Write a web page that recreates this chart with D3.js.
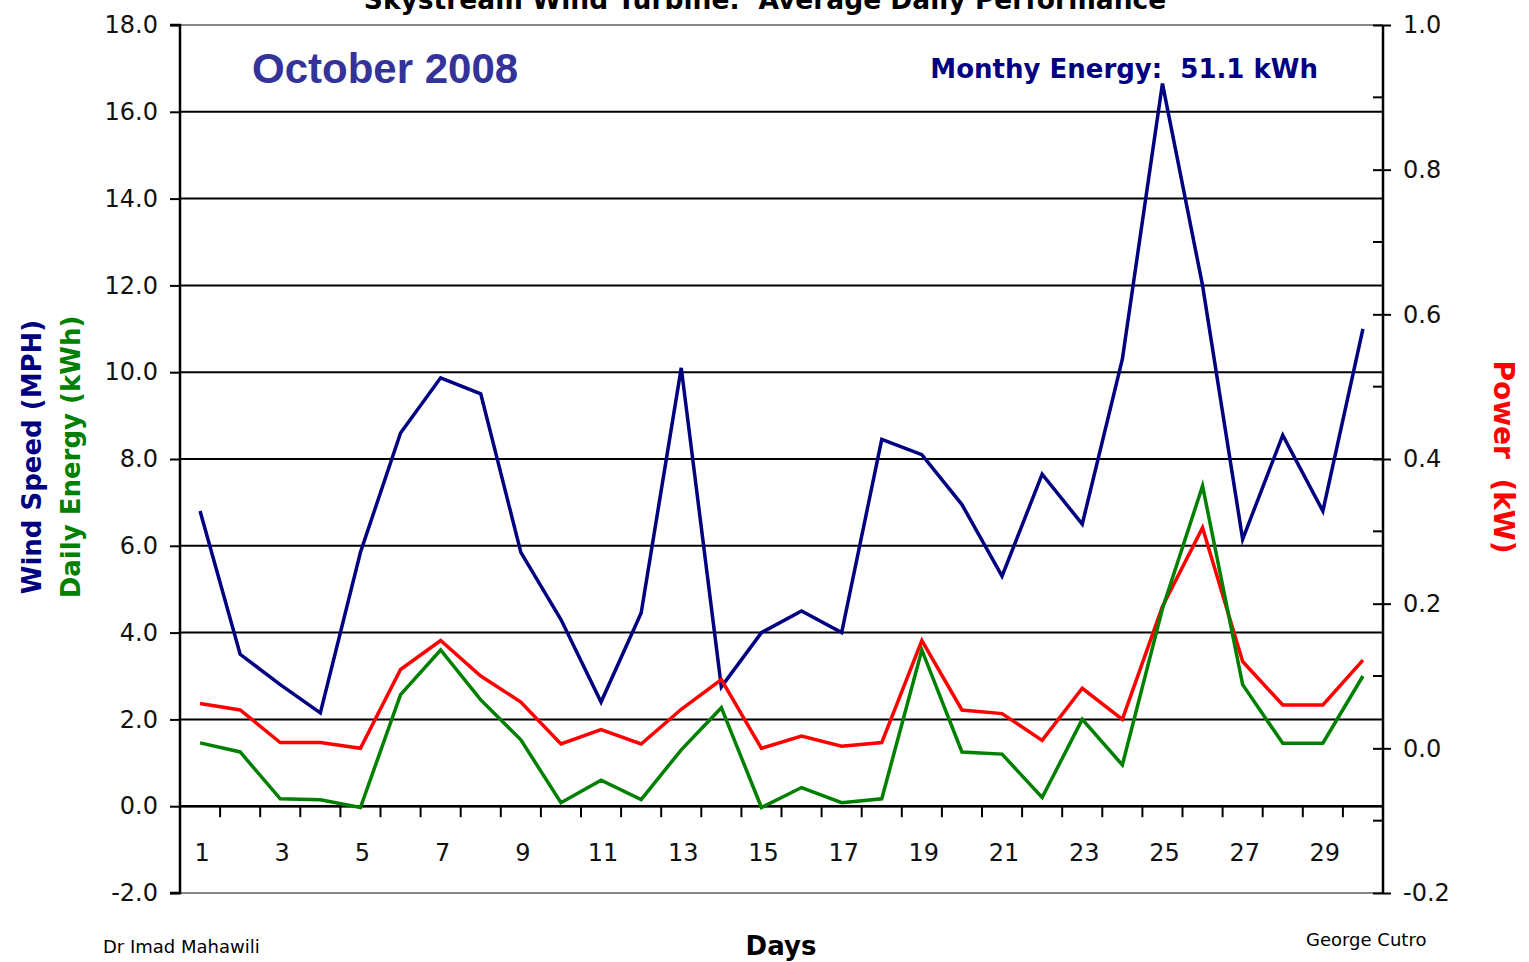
<!DOCTYPE html>
<html>
<head>
<meta charset="utf-8">
<script src="https://cdn.jsdelivr.net/npm/d3@7"></script>
<style>
  body { margin: 0; background: #fff; }
  svg text { font-family: "DejaVu Sans", sans-serif; white-space: pre; }
</style>
</head>
<body>
<div id="chart"></div>
<script>
const days = d3.range(1, 31);
const dayLabels = days.filter(d => d % 2 === 1);

// wind speed (MPH), left axis
const windSpeed = [6.8, 3.5, 2.8, 2.15, 5.85, 8.6, 9.87, 9.5, 5.85, 4.3,
  2.4, 4.45, 10.1, 2.75, 4.0, 4.5, 4.0, 8.45, 8.1, 6.95,
  5.3, 7.65, 6.5, 10.3, 16.65, 12.0, 6.15, 8.55, 6.8, 11.0];
// daily energy (kWh), left axis
const dailyEnergy = [1.46, 1.25, 0.17, 0.15, -0.03, 2.57, 3.6, 2.45, 1.53, 0.08,
  0.6, 0.15, 1.3, 2.27, -0.03, 0.43, 0.08, 0.17, 3.6, 1.25,
  1.2, 0.2, 2.0, 0.95, 4.55, 7.38, 2.8, 1.45, 1.45, 3.0];
// power (kW), right axis
const power = [0.062, 0.053, 0.008, 0.008, 0.0, 0.109, 0.149, 0.1, 0.064, 0.006,
  0.026, 0.006, 0.054, 0.095, 0.0, 0.017, 0.003, 0.008, 0.149, 0.053,
  0.048, 0.011, 0.083, 0.04, 0.196, 0.305, 0.12, 0.06, 0.06, 0.122];

const leftTicks = d3.range(-2, 18.1, 2);
const rightTicks = d3.range(-0.2, 1.01, 0.2).map(v => +v.toFixed(1));
const rightMinor = d3.range(-0.1, 1.0, 0.2).map(v => +v.toFixed(1));

const W = 1529, H = 962;
const plot = {left: 180, right: 1383, top: 25, bottom: 893};

const svg = d3.select("#chart").append("svg")
  .attr("width", W)
  .attr("height", H);

const x = d3.scaleBand()
  .domain(days)
  .range([plot.left, plot.right])
  .padding(0);
const y = d3.scaleLinear().domain([-2, 18]).range([plot.bottom, plot.top]);
const y2 = d3.scaleLinear().domain([-0.2, 1.0]).range([plot.bottom, plot.top]);

const fmt = d => (+d).toFixed(1);

// gridlines
svg.append("g")
  .selectAll("line")
  .data(leftTicks.filter(d => d > -2 && d < 18))
  .join("line")
  .attr("x1", plot.left).attr("x2", plot.right)
  .attr("y1", d => y(d)).attr("y2", d => y(d))
  .attr("stroke", "#000")
  .attr("stroke-width", 2);

// plot border top / bottom
svg.append("line")
  .attr("x1", plot.left).attr("x2", plot.right)
  .attr("y1", plot.top).attr("y2", plot.top)
  .attr("stroke", "#888").attr("stroke-width", 2);
svg.append("line")
  .attr("x1", plot.left).attr("x2", plot.right)
  .attr("y1", plot.bottom).attr("y2", plot.bottom)
  .attr("stroke", "#888").attr("stroke-width", 2);

// left axis
const yAxis = d3.axisLeft(y)
  .tickValues(leftTicks)
  .tickSize(10)
  .tickPadding(12)
  .tickFormat(fmt);
const gy = svg.append("g")
  .attr("transform", `translate(${plot.left},0)`)
  .call(yAxis);
gy.select(".domain").attr("stroke-width", 2.5).attr("d", `M-10,${plot.top}H0V${plot.bottom}H-10`);
gy.selectAll(".tick line").attr("stroke-width", 2);
gy.selectAll("text").attr("font-size", 24).attr("fill", "#111");

// right axis
const yAxis2 = d3.axisRight(y2)
  .tickValues(rightTicks)
  .tickSize(8)
  .tickPadding(12)
  .tickFormat(fmt);
const gy2 = svg.append("g")
  .attr("transform", `translate(${plot.right},0)`)
  .call(yAxis2);
gy2.select(".domain").attr("stroke-width", 2.5).attr("d", `M0,${plot.top}V${plot.bottom}`);
gy2.selectAll(".tick line").attr("x1", -10).attr("stroke-width", 2);
gy2.selectAll("text").attr("font-size", 24).attr("fill", "#111");
gy2.append("g")
  .selectAll("line")
  .data(rightMinor)
  .join("line")
  .attr("x1", -10).attr("x2", 0)
  .attr("y1", d => y2(d)).attr("y2", d => y2(d))
  .attr("stroke", "#000").attr("stroke-width", 2);

// x axis on zero line
const gx = svg.append("g")
  .attr("transform", `translate(0,${y(0)})`);
gx.append("line")
  .attr("x1", plot.left).attr("x2", plot.right)
  .attr("stroke", "#000").attr("stroke-width", 2.5);
gx.selectAll("line.tk")
  .data(days.slice(1))
  .join("line")
  .attr("class", "tk")
  .attr("x1", d => x(d)).attr("x2", d => x(d))
  .attr("y1", 0).attr("y2", 11)
  .attr("stroke", "#000").attr("stroke-width", 2);
gx.selectAll("text")
  .data(dayLabels)
  .join("text")
  .attr("x", d => x(d) + x.bandwidth() / 2 + 2)
  .attr("y", 55)
  .attr("text-anchor", "middle")
  .attr("font-size", 24)
  .attr("fill", "#111")
  .text(d => d);

// lines
const lineL = d3.line()
  .x((d, i) => x(days[i]) + x.bandwidth() / 2)
  .y(d => y(d));
const lineR = d3.line()
  .x((d, i) => x(days[i]) + x.bandwidth() / 2)
  .y(d => y2(d));

svg.append("path").datum(windSpeed)
  .attr("d", lineL).attr("fill", "none")
  .attr("stroke", "#000080").attr("stroke-width", 3.5);
svg.append("path").datum(power)
  .attr("d", lineR).attr("fill", "none")
  .attr("stroke", "#ff0000").attr("stroke-width", 3.5);
svg.append("path").datum(dailyEnergy)
  .attr("d", lineL).attr("fill", "none")
  .attr("stroke", "#008000").attr("stroke-width", 3.5);

// texts
svg.append("text")
  .attr("x", 765).attr("y", 9)
  .attr("text-anchor", "middle")
  .attr("font-size", 26.5).attr("font-weight", "bold")
  .text("Skystream Wind Turbine:  Average Daily Performance");

svg.append("text")
  .attr("x", 252).attr("y", 83)
  .style("font-family", "Arial, 'Liberation Sans', sans-serif")
  .attr("font-size", 42).attr("font-weight", "bold")
  .attr("fill", "#333399")
  .text("October 2008");

svg.append("text")
  .attr("x", 1318).attr("y", 78)
  .attr("text-anchor", "end")
  .attr("font-size", 26).attr("font-weight", "bold")
  .attr("fill", "#000080")
  .text("Monthy Energy:  51.1 kWh");

svg.append("text")
  .attr("transform", "translate(41,457) rotate(-90)")
  .attr("text-anchor", "middle")
  .attr("font-size", 26).attr("font-weight", "bold")
  .attr("fill", "#000080")
  .text("Wind Speed (MPH)");
svg.append("text")
  .attr("transform", "translate(80,457) rotate(-90)")
  .attr("text-anchor", "middle")
  .attr("font-size", 26).attr("font-weight", "bold")
  .attr("fill", "#008000")
  .text("Daily Energy (kWh)");
svg.append("text")
  .attr("transform", "translate(1494,457) rotate(90)")
  .attr("text-anchor", "middle")
  .attr("font-size", 28).attr("font-weight", "bold")
  .attr("fill", "#ff0000")
  .text("Power  (kW)");

svg.append("text")
  .attr("x", 781).attr("y", 955)
  .attr("text-anchor", "middle")
  .attr("font-size", 26).attr("font-weight", "bold")
  .text("Days");

svg.append("text")
  .attr("x", 103).attr("y", 953)
  .attr("font-size", 18)
  .text("Dr Imad Mahawili");
svg.append("text")
  .attr("x", 1306).attr("y", 946)
  .attr("font-size", 18)
  .text("George Cutro");
</script>
</body>
</html>
